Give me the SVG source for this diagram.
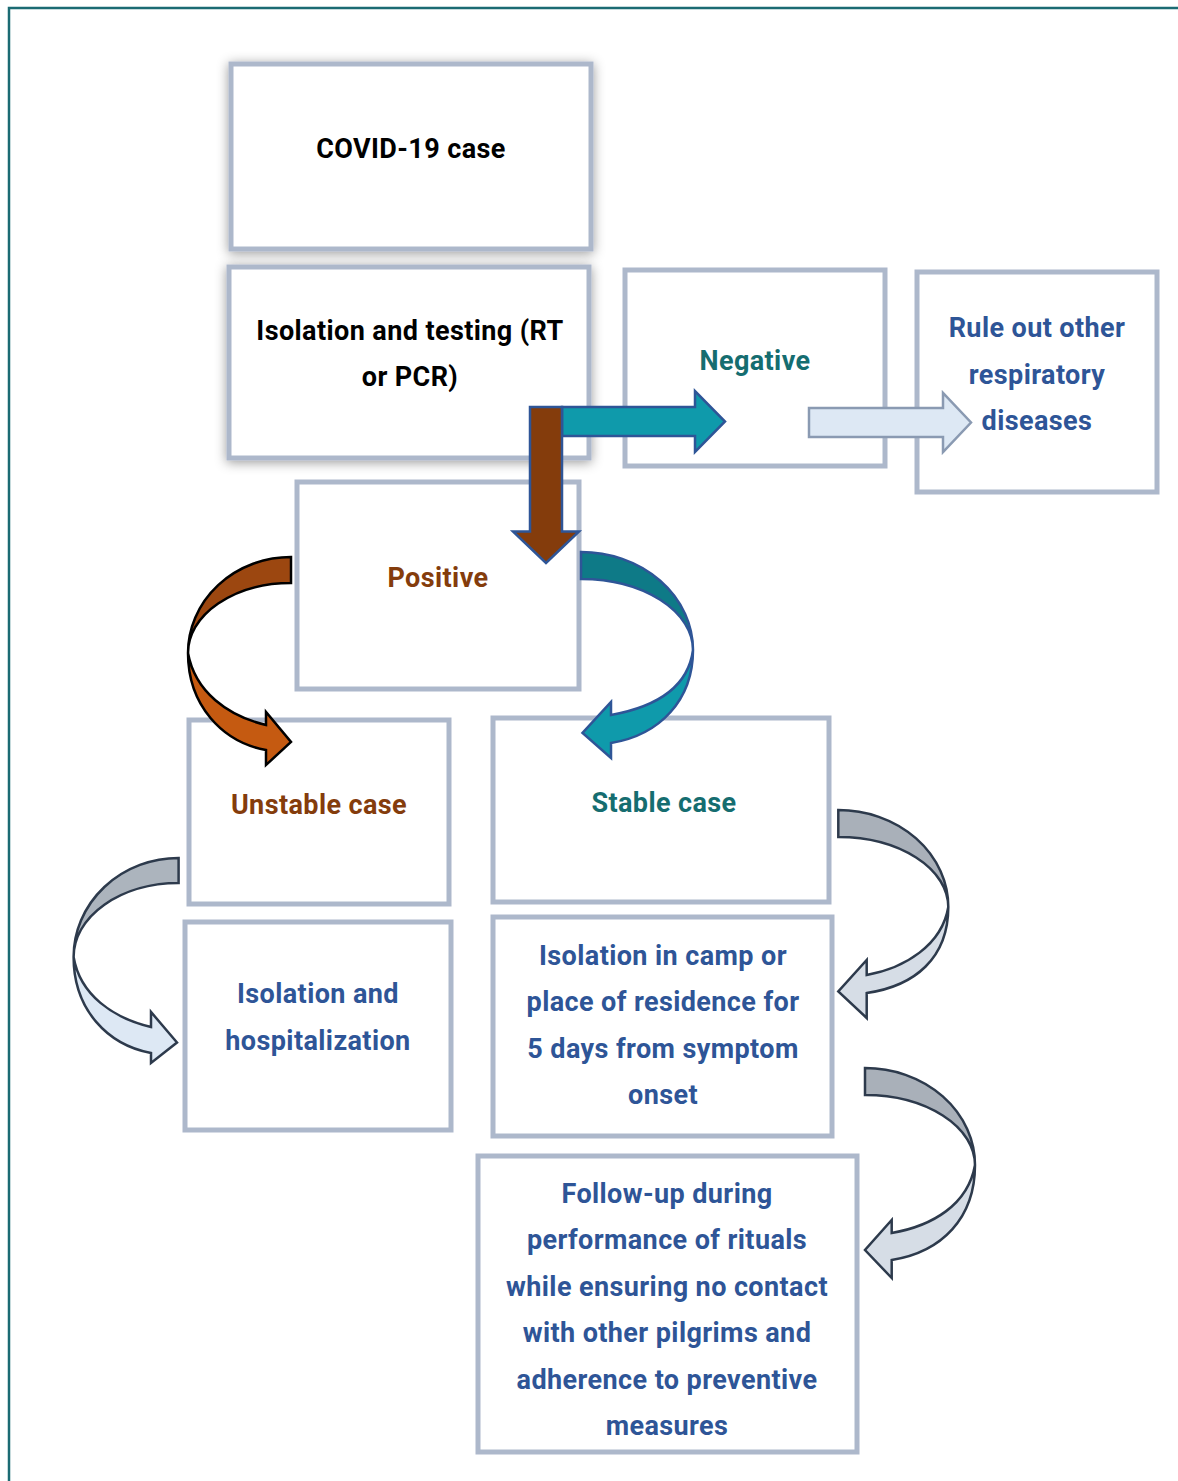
<svg xmlns="http://www.w3.org/2000/svg" width="1178" height="1481" viewBox="0 0 1178 1481">
<defs>
<filter id="sh" x="-10%" y="-10%" width="120%" height="125%">
<feGaussianBlur in="SourceAlpha" stdDeviation="6"/>
<feOffset dx="0" dy="2" result="b"/>
<feFlood flood-color="#000" flood-opacity="0.4"/>
<feComposite in2="b" operator="in"/>
<feMerge><feMergeNode/><feMergeNode in="SourceGraphic"/></feMerge>
</filter>
<style>
.box{fill:#fff;stroke:#adb8cb;stroke-width:5}
text{font-family:Roboto,"Liberation Sans",sans-serif;font-weight:bold;font-size:27px;letter-spacing:0.4px;text-anchor:middle}
.k{fill:#000}
.b{fill:#2e5597}
.r{fill:#843c0c}
.t{fill:#156d70}
.ol{stroke:#2e5597;stroke-width:2.5;stroke-linejoin:miter}
.ok{stroke:#000;stroke-width:2.5}
.og{stroke:#2d3a4c;stroke-width:2.5}
</style>
</defs>
<rect width="1178" height="1481" fill="#fff"/>
<path d="M9,1481 V8 H1178" fill="none" stroke="#1b6b73" stroke-width="2.5"/>

<g id="n-covid"><rect class="box" x="231" y="64" width="360" height="185" filter="url(#sh)"/><text class="k" x="411" y="158">COVID-19 case</text></g>
<g id="n-isolation-testing"><rect class="box" x="229" y="267" width="360" height="191" filter="url(#sh)"/><text class="k" x="410" y="340">Isolation and testing (RT</text><text class="k" x="410" y="386">or PCR)</text></g>
<g id="n-negative"><rect class="box" x="625" y="270" width="260" height="196"/><text class="t" x="755" y="370">Negative</text></g>
<g id="n-ruleout"><rect class="box" x="917" y="272" width="240" height="220"/><text class="b" x="1037" y="337">Rule out other</text><text class="b" x="1037" y="384">respiratory</text><text class="b" x="1037" y="430">diseases</text></g>
<g id="n-positive"><rect class="box" x="297" y="482" width="282" height="207"/><text class="r" x="438" y="587">Positive</text></g>
<g id="n-unstable"><rect class="box" x="189" y="720" width="260" height="184"/><text class="r" x="319" y="814">Unstable case</text></g>
<g id="n-stable"><rect class="box" x="493" y="718" width="336" height="184"/><text class="t" x="664" y="812">Stable case</text></g>
<g id="n-hosp"><rect class="box" x="185" y="922" width="266" height="208"/><text class="b" x="318" y="1003">Isolation and</text><text class="b" x="318" y="1050">hospitalization</text></g>
<g id="n-camp"><rect class="box" x="493" y="917" width="339" height="219"/><text class="b" x="663" y="965">Isolation in camp or</text><text class="b" x="663" y="1011">place of residence for</text><text class="b" x="663" y="1058">5 days from symptom</text><text class="b" x="663" y="1104">onset</text></g>
<g id="n-followup"><rect class="box" x="478" y="1156" width="379" height="296"/><text class="b" x="667" y="1203">Follow-up during</text><text class="b" x="667" y="1249">performance of rituals</text><text class="b" x="667" y="1296">while ensuring no contact</text><text class="b" x="667" y="1342">with other pilgrims and</text><text class="b" x="667" y="1389">adherence to preventive</text><text class="b" x="667" y="1435">measures</text></g>

<g id="connectors">
<path class="ol" fill="#0f9aab" d="M562,407 H695 V391 L725,421.5 L695,452 V436 H562 Z"/>
<path class="ol" fill="#843c0c" d="M530,407 H562 V531.5 H579 L546,563 L513,531.5 H530 Z"/>
<path fill="#dde8f4" stroke="#8a9ab2" stroke-width="2.5" d="M809,408 H943 V393 L971,422.5 L943,452 V437 H809 Z"/>

<g>
<path class="ok" fill="#9c4710" d="M291,557 A103,96 0 0 0 188,653 A103,70 0 0 1 291,583 Z"/>
<path class="ok" fill="#c55a11" d="M188,653 C188,705 222,742 266,750 V765 L291,742 L266,712 V725 C228,716 195,692 188,653 Z"/>
</g>
<g>
<path class="ol" fill="#0e7a87" d="M581,552 A112,98 0 0 1 693,650 A112,71 0 0 0 581,579 Z"/>
<path class="ol" fill="#0f9aab" d="M693,650 C693,700 660,735 611,743 V758 L582.5,733 L611,702 V715 C655,707 688,688 693,650 Z"/>
</g>
<g>
<path class="og" fill="#acb4bd" d="M178.6,858 A105,99 0 0 0 73.6,957 A105,74 0 0 1 178.6,883 Z"/>
<path class="og" fill="#dde8f4" d="M73.6,957 C73.6,1010 108,1045 151,1053 V1063 L177,1042.5 L151,1012 V1027 C113,1018 80,995 73.6,957 Z"/>
</g>
<g>
<path class="og" fill="#a9b0b9" d="M838.3,810 A110,97 0 0 1 948.3,907 A110,70 0 0 0 838.3,837 Z"/>
<path class="og" fill="#d6dde6" d="M948.3,907 C948.3,958 915,986 866.7,993 V1018 L838.3,991.5 L866.7,960 V975 C905,968 942,945 948.3,907 Z"/>
</g>
<g>
<path class="og" fill="#a9b0b9" d="M865,1068 A110,97 0 0 1 975,1165 A110,70 0 0 0 865,1095 Z"/>
<path class="og" fill="#d6dde6" d="M975,1165 C975,1218 942,1252 891.7,1260 V1278 L865,1250 L891.7,1220 V1233 C932,1226 968,1205 975,1165 Z"/>
</g>
</g>
</svg>
